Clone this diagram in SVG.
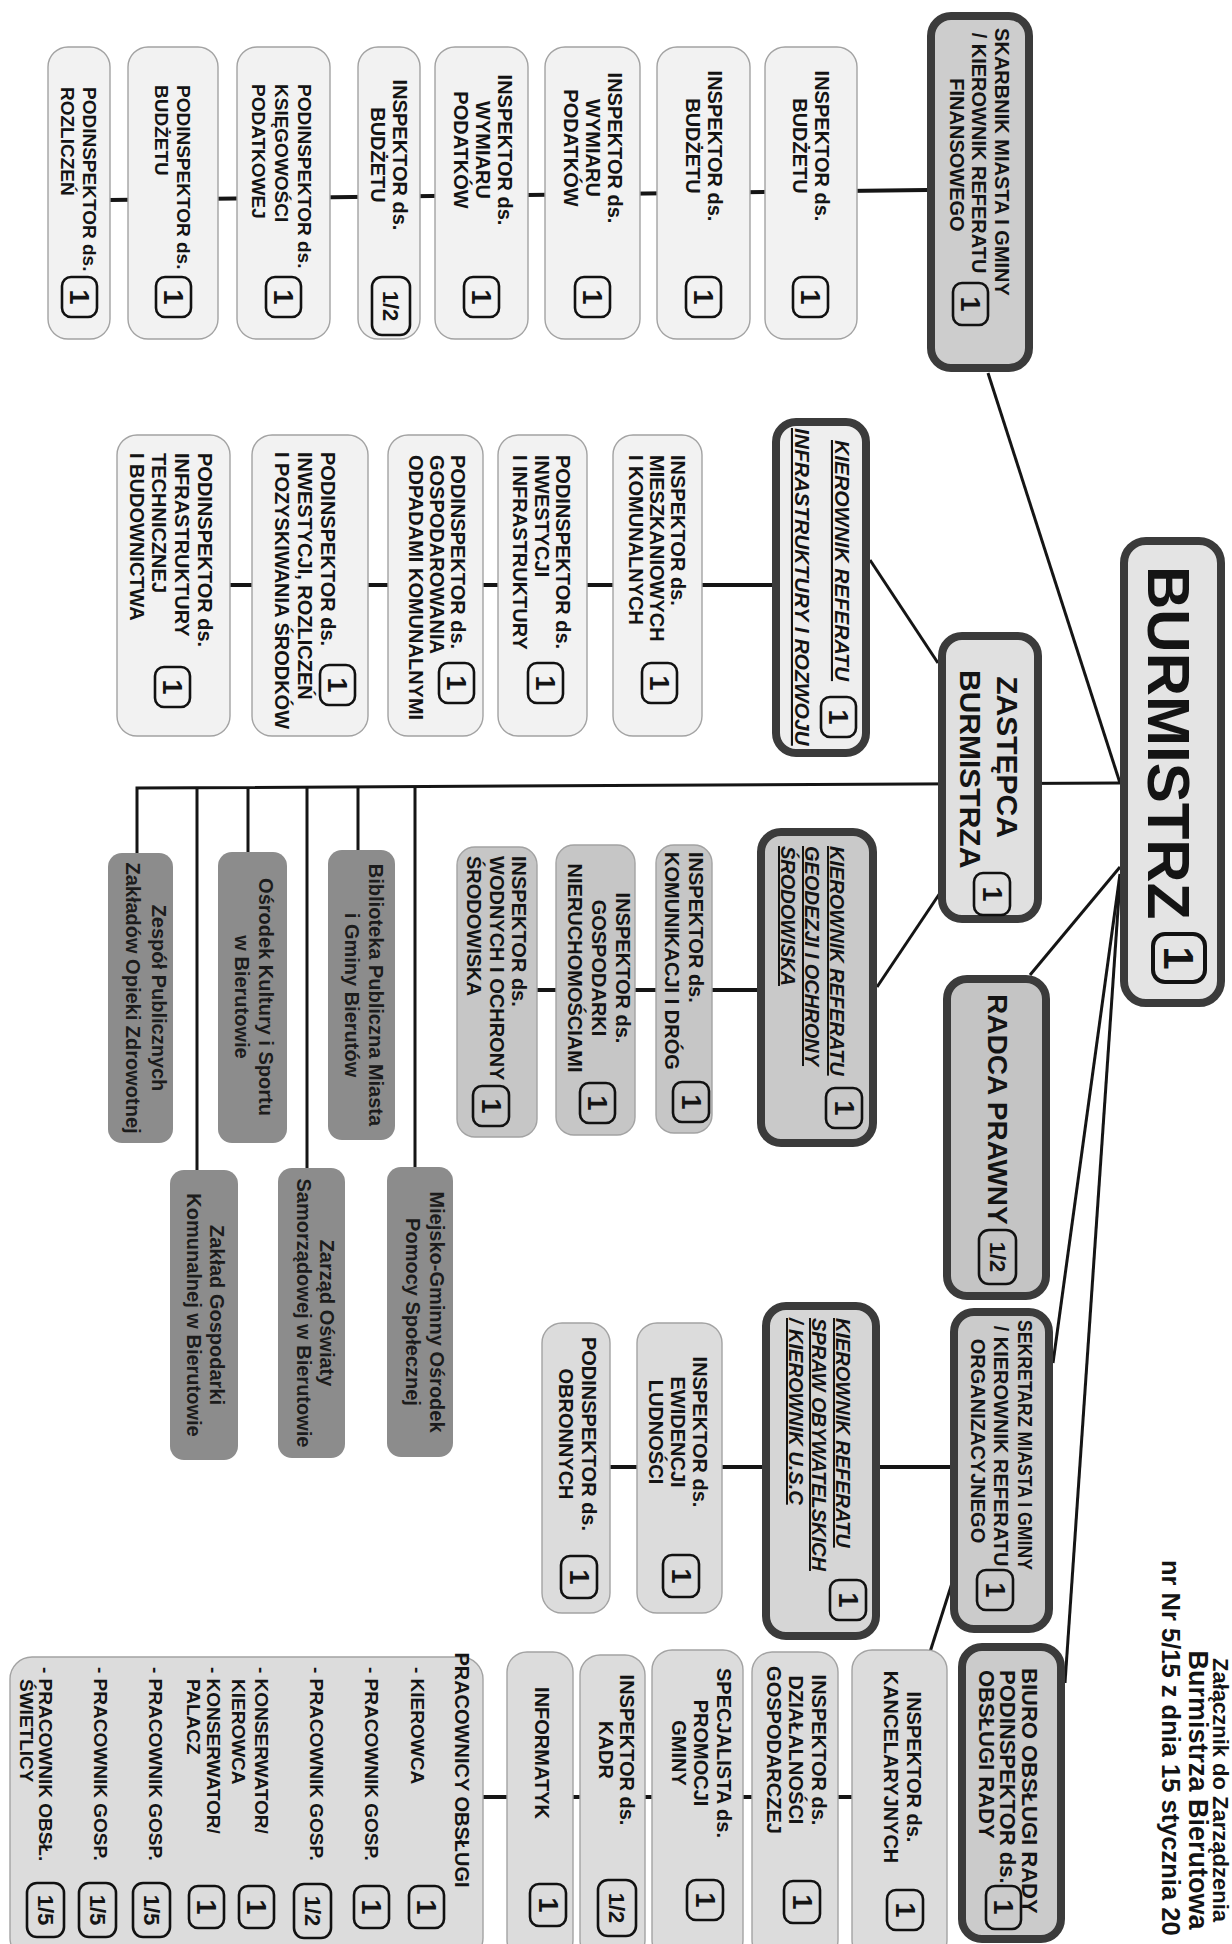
<svg xmlns="http://www.w3.org/2000/svg" width="1232" height="1944" viewBox="0 0 1232 1944">
<style>
text{font-family:"Liberation Sans",Arial,sans-serif;font-weight:bold;fill:#141414}
.top{stroke:#3b3b3b;stroke-width:8}
.sub{stroke:#a3a3a3;stroke-width:1.4}
.lt{fill:#f2f2f2}
.md{fill:#dcdcdc}
.dk{fill:#c6c6c6}
.unit{fill:#8c8c8c}
.bd{fill:none;stroke:#111;stroke-width:2.6}
.bb{stroke-width:4}
.t{font-size:20px}
.s{font-size:19px}
.c{text-anchor:middle}
.k{font-style:italic;text-decoration:underline}
.bn{font-size:27px;text-anchor:middle}
.bh{font-size:22px;text-anchor:middle}
.u{font-size:20px;text-anchor:middle;fill:#1c1c1c}
.ln{fill:none;stroke:#151515;stroke-width:3}
.ch{fill:none;stroke:#151515;stroke-width:4}
</style>
<rect width="1232" height="1944" fill="#fff"/>
<g transform="translate(1232,0) rotate(90)">
<g id="connectors">
<path class="ln" d="M373,244 L783,112"/>
<path class="ln" d="M783,112 L788,1095 L853,1095"/>
<path class="ln" d="M788,1035 H1170 M788,984 H852 M788,925 H1168 M788,874 H850 M788,817 H1167"/>
<path class="ln" d="M663,294 L560,362"/>
<path class="ln" d="M893,292 L987,355"/>
<path class="ln" d="M867,112 L975,202"/>
<path class="ln" d="M874,112 L1363,179"/>
<path class="ln" d="M880,112 L1683,167"/>
<path class="ch" d="M190,305 L200,1122"/>
<path class="ch" d="M585,460 V1002"/>
<path class="ch" d="M990,475 V695"/>
<path class="ch" d="M1467,282 V622"/>
<path class="ln" d="M1580,279 L1652,302"/>
<path class="ch" d="M1797,380 V749"/>
</g>

<g id="burmistrz">
<rect class="top" x="541" y="11" width="462" height="97" rx="22" fill="#e4e4e4"/>
<text x="566" y="84" font-size="60">BURMISTRZ</text>
<rect class="bd bb" x="934" y="27" width="48" height="52" rx="12"/>
<text class="c" x="958" y="68" font-size="42">1</text>
</g>

<g id="zastepca">
<rect class="top" x="636" y="194" width="283" height="96" rx="20" fill="#e0e0e0"/>
<text font-size="30"><tspan class="c" x="757" y="235">ZASTĘPCA</tspan><tspan x="670" y="272">BURMISTRZA</tspan></text>
<rect class="bd" x="873" y="222" width="42" height="36" rx="9"/>
<text class="bn" x="894" y="249">1</text>
</g>

<g id="skarbnik">
<rect class="top" x="16" y="203" width="352" height="98" rx="20" fill="#cdcdcd"/>
<text class="t c"><tspan x="162" y="237">SKARBNIK MIASTA I GMINY</tspan><tspan x="153" y="260">/ KIEROWNIK REFERATU</tspan><tspan x="155" y="282">FINANSOWEGO</tspan></text>
<rect class="bd" x="283" y="244" width="42" height="35" rx="9"/>
<text class="bn" x="304" y="271">1</text>
</g>

<g id="radca">
<rect class="top" x="979" y="186" width="317" height="99" rx="20" fill="#c4c4c4"/>
<text x="994" y="244" font-size="28">RADCA PRAWNY</text>
<rect class="bd" x="1230" y="216" width="54" height="37" rx="10"/>
<text class="bh" x="1257" y="242">1/2</text>
</g>

<g id="sekretarz">
<rect class="top" x="1312" y="183" width="317" height="95" rx="20" fill="#cbcbcb"/>
<text class="t c"><tspan x="1445" y="214" textLength="250" lengthAdjust="spacingAndGlyphs">SEKRETARZ MIASTA I GMINY</tspan><tspan x="1446" y="238">/ KIEROWNIK REFERATU</tspan><tspan x="1441" y="261">ORGANIZACYJNEGO</tspan></text>
<rect class="bd" x="1570" y="219" width="40" height="36" rx="9"/>
<text class="bn" x="1590" y="246">1</text>
</g>

<g id="biuro">
<rect class="top" x="1647" y="171" width="292" height="99" rx="20" fill="#cbcbcb"/>
<text font-size="22"><tspan x="1668" y="210">BIURO OBSŁUGI RADY</tspan><tspan x="1670" y="232">PODINSPEKTOR ds.</tspan><tspan x="1670" y="253">OBSŁUGI RADY</tspan></text>
<rect class="bd" x="1886" y="211" width="43" height="35" rx="9"/>
<text class="bn" x="1907" y="238">1</text>
</g>

<g id="kier-infra">
<rect class="top" x="422" y="366" width="331" height="90" rx="20" fill="#eeeeee"/>
<text class="k" font-size="21"><tspan x="440" y="397">KIEROWNIK REFERATU</tspan><tspan x="428" y="437">INFRASTRUKTURY I ROZWOJU</tspan></text>
<rect class="bd" x="697" y="376" width="40" height="35" rx="9"/>
<text class="bn" x="717" y="403">1</text>
</g>

<g id="kier-geo">
<rect class="top" x="832" y="359" width="311" height="112" rx="20" fill="#c9c9c9"/>
<text class="k" font-size="20"><tspan x="846" y="402">KIEROWNIK REFERATU</tspan><tspan x="846" y="427">GEODEZJI I OCHRONY</tspan><tspan x="846" y="451">ŚRODOWISKA</tspan></text>
<rect class="bd" x="1088" y="370" width="40" height="36" rx="9"/>
<text class="bn" x="1108" y="397">1</text>
</g>

<g id="kier-usc">
<rect class="top" x="1306" y="356" width="330" height="110" rx="20" fill="#d6d6d6"/>
<text class="k" font-size="20"><tspan x="1318" y="396">KIEROWNIK REFERATU</tspan><tspan x="1318" y="420">SPRAW OBYWATELSKICH</tspan><tspan x="1318" y="443">/ KIEROWNIK U.S.C</tspan></text>
<rect class="bd" x="1580" y="366" width="40" height="36" rx="9"/>
<text class="bn" x="1600" y="393">1</text>
</g>

<g id="f1">
<rect class="sub lt" x="47" y="375" width="292" height="92" rx="20"/>
<text class="t c"><tspan x="146" y="417">INSPEKTOR ds.</tspan><tspan x="146" y="439">BUDŻETU</tspan></text>
<rect class="bd" x="277" y="404" width="40" height="35" rx="9"/>
<text class="bn" x="297" y="431">1</text>
</g>
<g id="f2">
<rect class="sub lt" x="47" y="482" width="292" height="93" rx="20"/>
<text class="t c"><tspan x="146" y="524">INSPEKTOR ds.</tspan><tspan x="146" y="546">BUDŻETU</tspan></text>
<rect class="bd" x="277" y="511" width="40" height="35" rx="9"/>
<text class="bn" x="297" y="538">1</text>
</g>
<g id="f3">
<rect class="sub lt" x="47" y="592" width="292" height="95" rx="20"/>
<text class="t c"><tspan x="148" y="624">INSPEKTOR ds.</tspan><tspan x="148" y="646">WYMIARU</tspan><tspan x="148" y="668">PODATKÓW</tspan></text>
<rect class="bd" x="277" y="622" width="40" height="35" rx="9"/>
<text class="bn" x="297" y="649">1</text>
</g>
<g id="f4">
<rect class="sub lt" x="47" y="704" width="292" height="93" rx="20"/>
<text class="t c"><tspan x="150" y="734">INSPEKTOR ds.</tspan><tspan x="150" y="756">WYMIARU</tspan><tspan x="150" y="778">PODATKÓW</tspan></text>
<rect class="bd" x="277" y="733" width="40" height="35" rx="9"/>
<text class="bn" x="297" y="760">1</text>
</g>
<g id="f5">
<rect class="sub lt" x="47" y="812" width="292" height="62" rx="20"/>
<text class="t c"><tspan x="155" y="839">INSPEKTOR ds.</tspan><tspan x="155" y="861">BUDŻETU</tspan></text>
<rect class="bd" x="277" y="822" width="58" height="38" rx="10"/>
<text class="bh" x="306" y="849">1/2</text>
</g>
<g id="f6">
<rect class="sub lt" x="47" y="902" width="292" height="93" rx="20"/>
<text class="s"><tspan x="84" y="934">PODINSPEKTOR ds.</tspan><tspan x="84" y="957">KSIĘGOWOŚCI</tspan><tspan x="84" y="980">PODATKOWEJ</tspan></text>
<rect class="bd" x="277" y="931" width="40" height="35" rx="9"/>
<text class="bn" x="297" y="958">1</text>
</g>
<g id="f7">
<rect class="sub lt" x="47" y="1014" width="292" height="90" rx="20"/>
<text class="s"><tspan x="85" y="1055">PODINSPEKTOR ds.</tspan><tspan x="85" y="1077">BUDŻETU</tspan></text>
<rect class="bd" x="277" y="1041" width="40" height="35" rx="9"/>
<text class="bn" x="297" y="1068">1</text>
</g>
<g id="f8">
<rect class="sub lt" x="47" y="1122" width="292" height="62" rx="20"/>
<text class="s"><tspan x="87" y="1149">PODINSPEKTOR ds.</tspan><tspan x="87" y="1171">ROZLICZEŃ</tspan></text>
<rect class="bd" x="277" y="1135" width="40" height="35" rx="9"/>
<text class="bn" x="297" y="1162">1</text>
</g>

<g id="i1">
<rect class="sub lt" x="435" y="530" width="301" height="89" rx="20"/>
<text class="t"><tspan x="455" y="561">INSPEKTOR ds.</tspan><tspan x="455" y="582">MIESZKANIOWYCH</tspan><tspan x="455" y="603">I KOMUNALNYCH</tspan></text>
<rect class="bd" x="663" y="555" width="40" height="35" rx="9"/>
<text class="bn" x="683" y="582">1</text>
</g>
<g id="i2">
<rect class="sub lt" x="435" y="645" width="301" height="89" rx="20"/>
<text class="t"><tspan x="455" y="676">PODINSPEKTOR ds.</tspan><tspan x="455" y="697">INWESTYCJI</tspan><tspan x="455" y="719">I INFRASTRUKTURY</tspan></text>
<rect class="bd" x="663" y="669" width="40" height="35" rx="9"/>
<text class="bn" x="683" y="696">1</text>
</g>
<g id="i3">
<rect class="sub lt" x="435" y="749" width="301" height="95" rx="20"/>
<text class="t"><tspan x="455" y="781">PODINSPEKTOR ds.</tspan><tspan x="455" y="802">GOSPODAROWANIA</tspan><tspan x="455" y="823">ODPADAMI KOMUNALNYMI</tspan></text>
<rect class="bd" x="663" y="758" width="40" height="35" rx="9"/>
<text class="bn" x="683" y="785">1</text>
</g>
<g id="i4">
<rect class="sub lt" x="435" y="864" width="301" height="116" rx="20"/>
<text class="t"><tspan x="452" y="911">PODINSPEKTOR ds.</tspan><tspan x="452" y="934">INWESTYCJI, ROZLICZEŃ</tspan><tspan x="452" y="957">I POZYSKIWANIA ŚRODKÓW</tspan></text>
<rect class="bd" x="665" y="877" width="40" height="35" rx="9"/>
<text class="bn" x="685" y="904">1</text>
</g>
<g id="i5">
<rect class="sub lt" x="435" y="1002" width="301" height="113" rx="20"/>
<text class="t"><tspan x="453" y="1034">PODINSPEKTOR ds.</tspan><tspan x="453" y="1057">INFRASTRUKTURY</tspan><tspan x="453" y="1080">TECHNICZNEJ</tspan><tspan x="453" y="1102">I BUDOWNICTWA</tspan></text>
<rect class="bd" x="667" y="1042" width="40" height="35" rx="9"/>
<text class="bn" x="687" y="1069">1</text>
</g>

<g id="g1">
<rect class="sub dk" x="845" y="520" width="288" height="56" rx="18"/>
<text class="t"><tspan x="852" y="543">INSPEKTOR ds.</tspan><tspan x="852" y="567">KOMUNIKACJI I DRÓG</tspan></text>
<rect class="bd" x="1082" y="523" width="40" height="36" rx="9"/>
<text class="bn" x="1102" y="550">1</text>
</g>
<g id="g2">
<rect class="sub dk" x="845" y="597" width="290" height="79" rx="18"/>
<text class="t c"><tspan x="968" y="616">INSPEKTOR ds.</tspan><tspan x="968" y="640">GOSPODARKI</tspan><tspan x="968" y="664">NIERUCHOMOŚCIAMI</tspan></text>
<rect class="bd" x="1083" y="617" width="40" height="35" rx="9"/>
<text class="bn" x="1103" y="644">1</text>
</g>
<g id="g3">
<rect class="sub dk" x="847" y="695" width="290" height="80" rx="18"/>
<text class="t"><tspan x="856" y="720">INSPEKTOR ds.</tspan><tspan x="856" y="742">WODNYCH I OCHRONY</tspan><tspan x="856" y="765">ŚRODOWISKA</tspan></text>
<rect class="bd" x="1086" y="723" width="40" height="36" rx="9"/>
<text class="bn" x="1106" y="750">1</text>
</g>

<g id="e1">
<rect class="sub md" x="1323" y="510" width="290" height="85" rx="20"/>
<text class="t c"><tspan x="1432" y="539">INSPEKTOR ds.</tspan><tspan x="1432" y="561">EWIDENCJI</tspan><tspan x="1432" y="583">LUDNOŚCI</tspan></text>
<rect class="bd" x="1555" y="533" width="42" height="36" rx="9"/>
<text class="bn" x="1576" y="560">1</text>
</g>
<g id="e2">
<rect class="sub md" x="1323" y="622" width="290" height="68" rx="20"/>
<text class="t c"><tspan x="1434" y="650">PODINSPEKTOR ds.</tspan><tspan x="1434" y="673">OBRONNYCH</tspan></text>
<rect class="bd" x="1556" y="635" width="42" height="36" rx="9"/>
<text class="bn" x="1577" y="662">1</text>
</g>

<g id="b1">
<rect class="sub md" x="1650" y="285" width="310" height="95" rx="20"/>
<text class="t c"><tspan x="1767" y="325">INSPEKTOR ds.</tspan><tspan x="1767" y="348">KANCELARYJNYCH</tspan></text>
<rect class="bd" x="1890" y="309" width="40" height="36" rx="9"/>
<text class="bn" x="1910" y="336">1</text>
</g>
<g id="b2">
<rect class="sub md" x="1652" y="394" width="308" height="86" rx="20"/>
<text class="t c"><tspan x="1750" y="420">INSPEKTOR ds.</tspan><tspan x="1750" y="443">DZIAŁALNOŚCI</tspan><tspan x="1750" y="465">GOSPODARCZEJ</tspan></text>
<rect class="bd" x="1881" y="412" width="42" height="36" rx="9"/>
<text class="bn" x="1902" y="439">1</text>
</g>
<g id="b3">
<rect class="sub md" x="1650" y="489" width="310" height="91" rx="20"/>
<text class="t c"><tspan x="1753" y="515">SPECJALISTA ds.</tspan><tspan x="1753" y="538">PROMOCJI</tspan><tspan x="1753" y="560">GMINY</tspan></text>
<rect class="bd" x="1880" y="509" width="40" height="36" rx="9"/>
<text class="bn" x="1900" y="536">1</text>
</g>
<g id="b4">
<rect class="sub md" x="1655" y="587" width="305" height="65" rx="20"/>
<text class="t c"><tspan x="1750" y="612">INSPEKTOR ds.</tspan><tspan x="1750" y="633">KADR</tspan></text>
<rect class="bd" x="1880" y="596" width="56" height="38" rx="10"/>
<text class="bh" x="1908" y="623">1/2</text>
</g>
<g id="b5">
<rect class="sub md" x="1652" y="659" width="308" height="66" rx="20"/>
<text class="t c" x="1753" y="697">INFORMATYK</text>
<rect class="bd" x="1884" y="666" width="42" height="36" rx="9"/>
<text class="bn" x="1905" y="693">1</text>
</g>
<g id="b6">
<rect class="sub md" x="1657" y="749" width="303" height="473" rx="22"/>
<text class="t c" x="1770" y="777">PRACOWNICY OBSŁUGI</text>
<text class="s"><tspan x="1667" y="821">- KIEROWCA</tspan><tspan x="1667" y="867">- PRACOWNIK GOSP.</tspan><tspan x="1667" y="922">- PRACOWNIK GOSP.</tspan><tspan x="1667" y="977">- KONSERWATOR/</tspan><tspan x="1679" y="1000">KIEROWCA</tspan><tspan x="1667" y="1025">- KONSERWATOR/</tspan><tspan x="1679" y="1045">PALACZ</tspan><tspan x="1667" y="1083">- PRACOWNIK GOSP.</tspan><tspan x="1667" y="1138">- PRACOWNIK GOSP.</tspan><tspan x="1667" y="1193">- PRACOWNIK OBSŁ.</tspan><tspan x="1679" y="1212">ŚWIETLICY</tspan></text>
<rect class="bd" x="1886" y="788" width="42" height="35" rx="9"/><text class="bn" x="1907" y="815">1</text>
<rect class="bd" x="1886" y="843" width="42" height="35" rx="9"/><text class="bn" x="1907" y="870">1</text>
<rect class="bd" x="1884" y="901" width="54" height="37" rx="10"/><text class="bh" x="1911" y="927">1/2</text>
<rect class="bd" x="1886" y="958" width="42" height="35" rx="9"/><text class="bn" x="1907" y="985">1</text>
<rect class="bd" x="1886" y="1008" width="42" height="35" rx="9"/><text class="bn" x="1907" y="1035">1</text>
<rect class="bd" x="1883" y="1062" width="54" height="37" rx="10"/><text class="bh" x="1910" y="1088">1/5</text>
<rect class="bd" x="1883" y="1116" width="54" height="37" rx="10"/><text class="bh" x="1910" y="1142">1/5</text>
<rect class="bd" x="1883" y="1168" width="54" height="37" rx="10"/><text class="bh" x="1910" y="1194">1/5</text>
</g>

<g id="u1"><rect class="unit" x="853" y="1059" width="290" height="65" rx="14"/>
<text class="u"><tspan x="998" y="1080">Zespół Publicznych</tspan><tspan x="998" y="1106">Zakładów Opieki Zdrowotnej</tspan></text></g>
<g id="u2"><rect class="unit" x="852" y="945" width="291" height="69" rx="14"/>
<text class="u"><tspan x="997" y="973">Ośrodek Kultury i Sportu</tspan><tspan x="997" y="997">w Bierutowie</tspan></text></g>
<g id="u3"><rect class="unit" x="850" y="837" width="290" height="67" rx="14"/>
<text class="u"><tspan x="995" y="863">Biblioteka Publiczna Miasta</tspan><tspan x="995" y="887">i Gminy Bierutów</tspan></text></g>
<g id="u4"><rect class="unit" x="1170" y="994" width="290" height="68" rx="14"/>
<text class="u"><tspan x="1315" y="1022">Zakład Gospodarki</tspan><tspan x="1315" y="1045">Komunalnej w Bierutowie</tspan></text></g>
<g id="u5"><rect class="unit" x="1168" y="887" width="290" height="67" rx="14"/>
<text class="u"><tspan x="1313" y="912">Zarząd Oświaty</tspan><tspan x="1313" y="935">Samorządowej w Bierutowie</tspan></text></g>
<g id="u6"><rect class="unit" x="1167" y="779" width="290" height="66" rx="14"/>
<text class="u"><tspan x="1312" y="802">Miejsko-Gminny Ośrodek</tspan><tspan x="1312" y="826">Pomocy Społecznej</tspan></text></g>

<g id="title">
<text class="c" x="1790" y="19" font-size="22">Załącznik do Zarządzenia</text>
<text class="c" x="1790" y="43" font-size="27">Burmistrza Bierutowa</text>
<text x="1560" y="70" font-size="25.5">nr Nr 5/15 z dnia 15 stycznia 20</text>
</g>
</g>
</svg>
